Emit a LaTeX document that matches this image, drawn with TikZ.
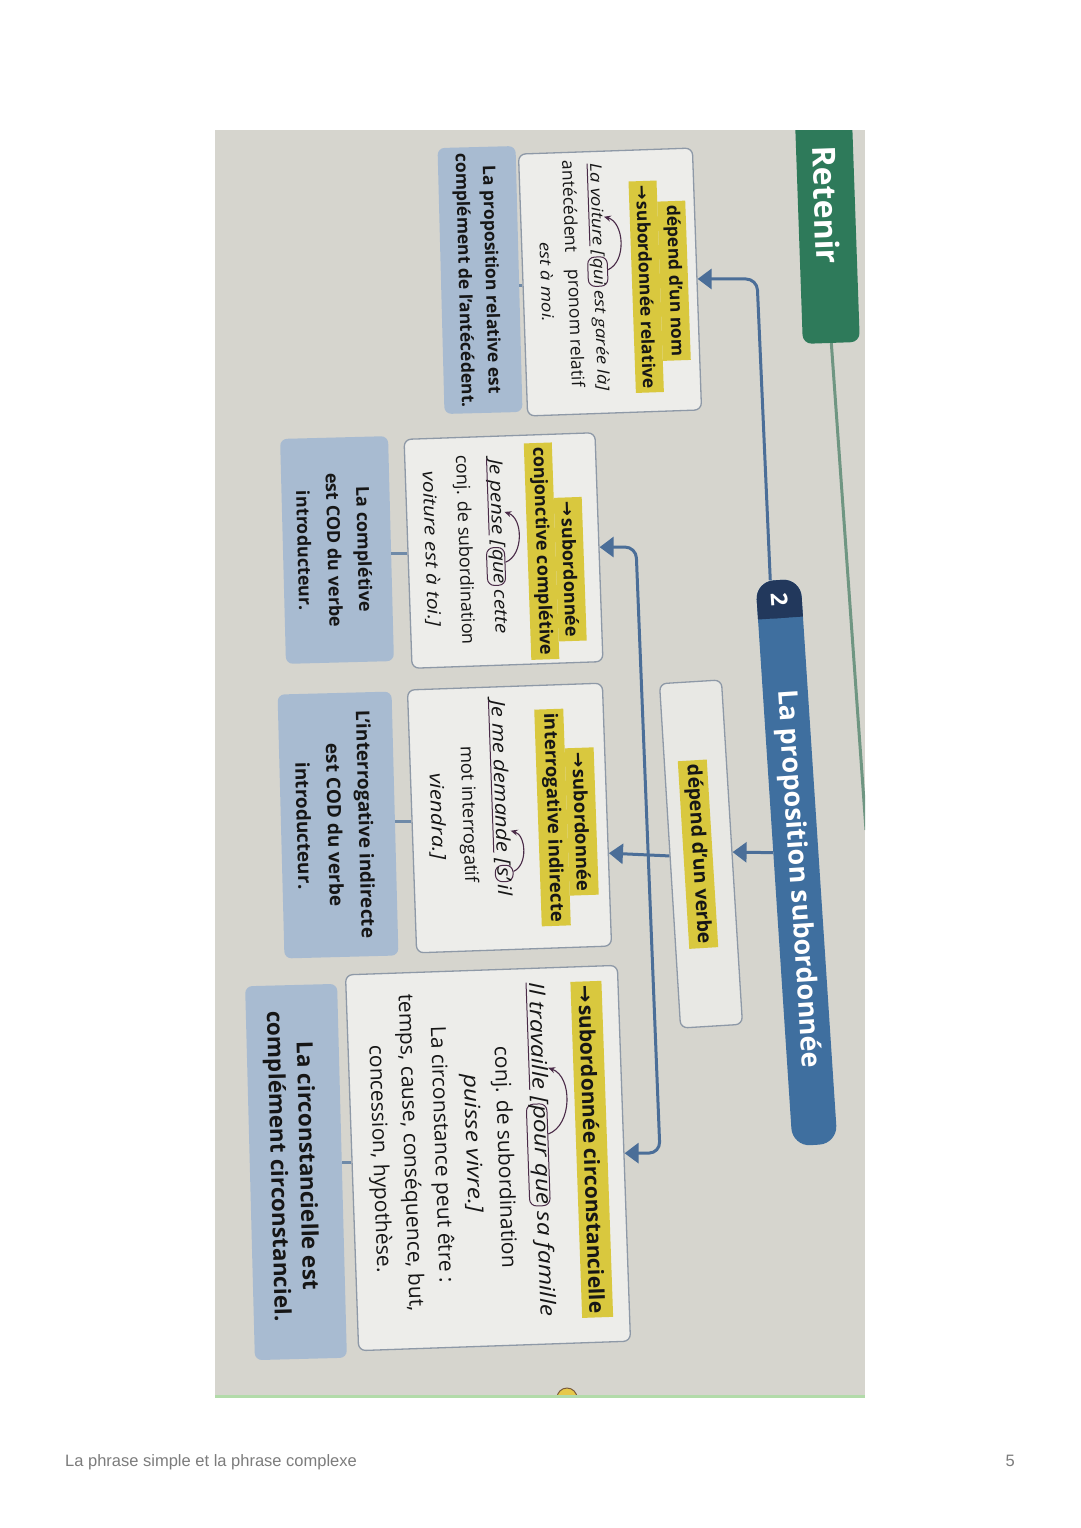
\documentclass[tikz,border=0pt]{standalone}
\usepackage{fontspec}
\setmainfont{Open Sans}[ItalicFeatures={FakeStretch=1.17}]
\newfontfamily\arrowfont{DejaVu Sans}
\newfontfamily\footfont{Liberation Sans}
\usetikzlibrary{arrows.meta,calc}
\definecolor{pagebg}{HTML}{D6D5CE}
\definecolor{boxfill}{HTML}{EDEDEA}
\definecolor{boxfilltwo}{HTML}{E8E8E4}
\definecolor{boxedge}{HTML}{8E99A7}
\definecolor{bluebox}{HTML}{A8BBD1}
\definecolor{hly}{HTML}{D9C83E}
\definecolor{ink}{HTML}{161616}
\definecolor{annot}{HTML}{4A2B48}
\definecolor{connblue}{HTML}{4B6E98}
\definecolor{stubblue}{HTML}{6F8AA8}
\definecolor{bannerblue}{HTML}{3F6F9F}
\definecolor{capblue}{HTML}{22385C}
\definecolor{retgreen}{HTML}{2E7A5A}
\definecolor{pageline}{HTML}{6F9682}
\definecolor{edgegreen}{HTML}{B2DBA9}
\definecolor{footgray}{HTML}{7C7C7C}
\definecolor{iconyellow}{HTML}{E6C84A}
\definecolor{iconbrown}{HTML}{7A5A3A}
\newcommand\bxfs{18}
\newcommand\bxit{18}
\newcommand\bxlead{27}
\newcommand\arw{{\arrowfont →}\kern2pt}
\tikzset{
  wbox/.style={draw=boxedge, line width=1.3pt, fill=boxfill, rounded corners=7pt, inner sep=0pt},
  bbox/.style={fill=bluebox, rounded corners=7pt, inner sep=0pt},
  txt/.style={inner sep=0pt, text=ink, font=\fontsize{\bxfs}{\bxlead}\selectfont},
  btxt/.style={inner sep=0pt, text=ink, font=\fontsize{\bxfs}{\bxlead}\selectfont\bfseries},
  itx/.style={inner sep=0pt, text=ink, font=\fontsize{\bxit}{\bxlead}\selectfont\itshape},
  hl/.style={fill=hly, inner xsep=4pt, inner ysep=0pt, minimum height=28pt, text=ink, font=\fontsize{\bxfs}{\bxlead}\selectfont\bfseries},
  ring/.style={draw=annot, line width=1pt, rounded corners=7pt, inner xsep=1.5pt, inner ysep=2pt, text=ink, font=\fontsize{\bxit}{\bxlead}\selectfont\itshape},
  uline/.style={draw=annot, line width=1pt},
  annarrow/.style={draw=annot, line width=1.1pt, -{Stealth[length=7pt,width=6pt]}},
  conn/.style={draw=connblue, line width=3pt, rounded corners=11pt},
  arrowtip/.style={-{Triangle[length=14pt,width=20pt]}},
  arrowboth/.style={{Triangle[length=14pt,width=20pt]}-{Triangle[length=14pt,width=20pt]}},
  stub/.style={draw=stubblue, line width=3pt},
  footer/.style={inner sep=0pt, text=footgray, font=\footfont\fontsize{16.5}{20}\selectfont},
}
\begin{document}
\begin{tikzpicture}[x=1pt,y=1pt]
\useasboundingbox (0,0) rectangle (1080,-1528);
\fill[white] (0,0) rectangle (1080,-1528);

\begin{scope}
\clip (215,-130) rectangle (865,-1397);
\fill[pagebg] (215,-130) rectangle (865,-1397);

% Retenir tab and page line
\node[rotate=-88, fill=retgreen, rounded corners=9pt, minimum width=276pt, minimum height=57pt, inner sep=0pt, text=white, font=\fontsize{32}{32}\selectfont\bfseries] (rettab) at (826.5,-205) {Retenir};
\coordinate (pageedge) at (866,-830);
\draw[pageline, line width=3pt] (rettab.east) -- (pageedge);

% title banner
\node[rotate=-86.25, fill=bannerblue, rounded corners=18pt, minimum width=566pt, minimum height=45pt, inner sep=0pt] (banner) at (796.5,-862.5) {};
\node[rotate=-86.25, fill=capblue, rounded corners=18pt, minimum width=38pt, minimum height=45pt, inner sep=0pt, anchor=west] (num) at (banner.west) {};
\node[rotate=-86.25, fill=capblue, minimum width=19pt, minimum height=45pt, inner sep=0pt, anchor=east] (numfill) at (num.east) {};
\node[rotate=-86.25, inner sep=0pt, text=white, font=\fontsize{23}{23}\selectfont\bfseries] (numlabel) at (num.center) {2};
\node[rotate=-86.25, inner sep=0pt, text=white, font=\fontsize{27}{27}\selectfont\bfseries] (bantext) at (797.5,-879) {La proposition subordonnée};

% relative box
\begin{scope}[shift={(610,-282)}, rotate=-88, transform shape]
\def\bxfs{17.5}\def\bxit{16}\def\bxlead{26}
\node[wbox, minimum width=262pt, minimum height=174pt] (relbox) at (0,0) {};
\node[hl] (relh1) at (1,64) {dépend d’un nom};
\node[hl] (relh2) at (6,36) {\arw subordonnée relative};
\node[itx, anchor=west] (rv1) at (-119,-10) {La voiture};
\node[itx, anchor=base west] (rv2) at (rv1.base east) {\hspace*{0.3em}[};
\node[ring, anchor=base west] (rq) at (rv2.base east) {qui};
\node[itx, anchor=base west] (rv3) at (rq.base east) {\hspace*{0.2em}est garée là]};
\node[txt, anchor=west] (rl1) at (-123,-37) {antécédent};
\node[txt, anchor=west] (rl2) at (-14,-37) {pronom relatif};
\node[itx] (rv4) at (-2,-63) {est à moi.};
\draw[uline] ($(rv1.base west)!-3pt!(rv1.north west)$) -- ($(rv1.base east)!-3pt!(rv1.north east)$);
\draw[annarrow] ($(rq.north west)!0.45!(rq.north east)$) to[bend right=70] ($(rv1.north east)!0.35!(rv1.north west)$);
\end{scope}

\begin{scope}[shift={(480,-280)}, rotate=-88.5, transform shape]
\def\bxfs{17.5}\def\bxlead{27}
\node[bbox, minimum width=266pt, minimum height=78pt] (relblue) at (0,0) {};
\node[btxt, align=center] (relbluetext) at (0,-3) {La proposition relative est\\complément de l’antécédent.};
\end{scope}

% completive box
\begin{scope}[shift={(503.5,-550.5)}, rotate=-88, transform shape]
\def\bxfs{18}\def\bxit{18}\def\bxlead{30}
\node[wbox, minimum width=229pt, minimum height=191pt] (compbox) at (0,0) {};
\node[hl] (ch1) at (21,66) {\arw subordonnée};
\node[hl] (ch2) at (2,38) {conjonctive complétive};
\node[itx, anchor=west] (cv1) at (-92,-6.5) {Je pense};
\node[itx, anchor=base west] (cv2) at (cv1.base east) {\hspace*{0.3em}[};
\node[ring, anchor=base west] (cq) at (cv2.base east) {que};
\node[itx, anchor=base west] (cv3) at (cq.base east) {\hspace*{0.2em}cette};
\node[txt] (cl1) at (-2,-39.5) {conj. de subordination};
\node[itx] (cv4) at (-4,-72.5) {voiture est à toi.]};
\draw[uline] ($(cv1.base west)!-3pt!(cv1.north west)$) -- ($(cv1.base east)!-3pt!(cv1.north east)$);
\draw[annarrow] ($(cq.north west)!0.4!(cq.north east)$) to[bend right=70] ($(cv1.north east)!0.3!(cv1.north west)$);
\end{scope}

\begin{scope}[shift={(337,-550)}, rotate=-88.5, transform shape]
\def\bxfs{18}\def\bxlead{30}
\node[bbox, minimum width=225pt, minimum height=108pt] (compblue) at (0,0) {};
\node[btxt, align=center] (compbluetext) at (0,-2.5) {La complétive\\est COD du verbe\\introducteur.};
\end{scope}

% interrogative box
\begin{scope}[shift={(509.5,-818)}, rotate=-88, transform shape]
\def\bxfs{18.5}\def\bxit{19}\def\bxlead{31}
\node[wbox, minimum width=263pt, minimum height=195pt] (intbox) at (0,0) {};
\node[hl, minimum height=29pt] (ih1) at (6,72) {\arw subordonnée};
\node[hl, minimum height=29pt] (ih2) at (1,43) {interrogative indirecte};
\node[itx, anchor=west] (iv1) at (-118,-8.5) {Je me demande};
\node[itx, anchor=base west] (iv2) at (iv1.base east) {\hspace*{0.3em}[};
\node[ring, anchor=base west] (iq) at (iv2.base east) {s’};
\node[itx, anchor=base west] (iv3) at (iq.base east) {\hspace*{0.1em}il};
\node[txt] (il1) at (-5,-41.5) {mot interrogatif};
\node[itx] (iv4) at (-4,-72.5) {viendra.]};
\draw[uline] ($(iv1.base west)!-3pt!(iv1.north west)$) -- ($(iv1.base east)!-3pt!(iv1.north east)$);
\draw[annarrow] ($(iq.north west)!0.4!(iq.north east)$) to[bend right=70] ($(iv1.north east)!0.14!(iv1.north west)$);
\end{scope}

\begin{scope}[shift={(338,-825)}, rotate=-88.5, transform shape]
\def\bxfs{19}\def\bxlead{31}
\node[bbox, minimum width=264pt, minimum height=114pt] (intblue) at (0,0) {};
\node[btxt, align=center] (intbluetext) at (0,-3) {L’interrogative indirecte\\est COD du verbe\\introducteur.};
\end{scope}

% depend d'un verbe
\begin{scope}[shift={(701,-854)}, rotate=-86.5, transform shape]
\def\bxfs{19.5}\def\bxlead{28}
\node[wbox, fill=boxfilltwo, minimum width=345pt, minimum height=62pt] (verbebox) at (0,0) {};
\node[hl, minimum height=29pt] (vh) at (0,-3) {dépend d’un verbe};
\end{scope}

% circonstancielle box
\begin{scope}[shift={(488,-1158)}, rotate=-88, transform shape]
\def\bxfs{21}\def\bxit{21}\def\bxlead{31}
\node[wbox, minimum width=376pt, minimum height=272pt] (circbox) at (0,0) {};
\node[hl, minimum height=31pt] (xh1) at (-5,104) {\arw subordonnée circonstancielle};
\node[itx, anchor=west] (xv1) at (-174,55) {Il travaille};
\node[itx, anchor=base west] (xv2) at (xv1.base east) {\hspace*{0.3em}[};
\node[ring, anchor=base west] (xq) at (xv2.base east) {pour que};
\node[itx, anchor=base west] (xv3) at (xq.base east) {\hspace*{0.25em}sa famille};
\node[txt] (xl1) at (0,16) {conj. de subordination};
\node[itx] (xv4) at (-15,-16) {puisse vivre.]};
\node[txt] (xl2) at (-5,-47) {La circonstance peut être :};
\node[txt] (xl3) at (-8,-78) {temps, cause, conséquence, but,};
\node[txt] (xl4) at (-3,-109) {concession, hypothèse.};
\draw[uline] ($(xv1.base west)!-3pt!(xv1.north west)$) -- ($(xv1.base east)!-3pt!(xv1.north east)$);
\draw[annarrow] ($(xq.north west)!0.3!(xq.north east)$) to[bend right=70] ($(xv1.north east)!0.2!(xv1.north west)$);
\end{scope}

\begin{scope}[shift={(296,-1172)}, rotate=-88.5, transform shape]
\def\bxfs{22.5}\def\bxlead{29}
\node[bbox, minimum width=374pt, minimum height=92pt] (circblue) at (0,0) {};
\node[btxt, align=center] (circbluetext) at (-6,-4.5) {La circonstancielle est\\complément circonstanciel.};
\end{scope}

% connectors
\coordinate (c1) at (757,-279);
\coordinate (c2) at (636,-547);
\coordinate (c3) at (660,-1153);
\draw[conn, arrowtip] ($(num.south west)!0.33!(num.north west)$) -- (c1) -- (relbox.north);
\draw[conn, arrowtip] ($(banner.south west)!0.48!(banner.south east)$) -- (verbebox.north);
\draw[conn, arrowtip] (verbebox.south) -- ($(intbox.north west)!0.646!(intbox.north east)$);
\draw[conn, arrowboth] (compbox.north) -- (c2) -- (c3) -- (circbox.north);

\draw[stub] (relbox.south) -- (relbox.south -| relblue.north);
\draw[stub] (compbox.south) -- (compbox.south -| compblue.north);
\draw[stub] (intbox.south) -- (intbox.south -| intblue.north);
\draw[stub] (circbox.south) -- (circbox.south -| circblue.north);

% small icon at lower edge
\draw[iconbrown, fill=iconyellow, line width=1pt] (557,-1398) arc (180:0:10);
\draw[edgegreen, line width=3pt] (215,-1396) -- (865,-1396);
\end{scope}

% footer
\node[footer, anchor=base west] (foot) at (65,-1466) {La phrase simple et la phrase complexe};
\node[footer, anchor=base east] (pnum) at (1015,-1466) {5};
\end{tikzpicture}
\end{document}
